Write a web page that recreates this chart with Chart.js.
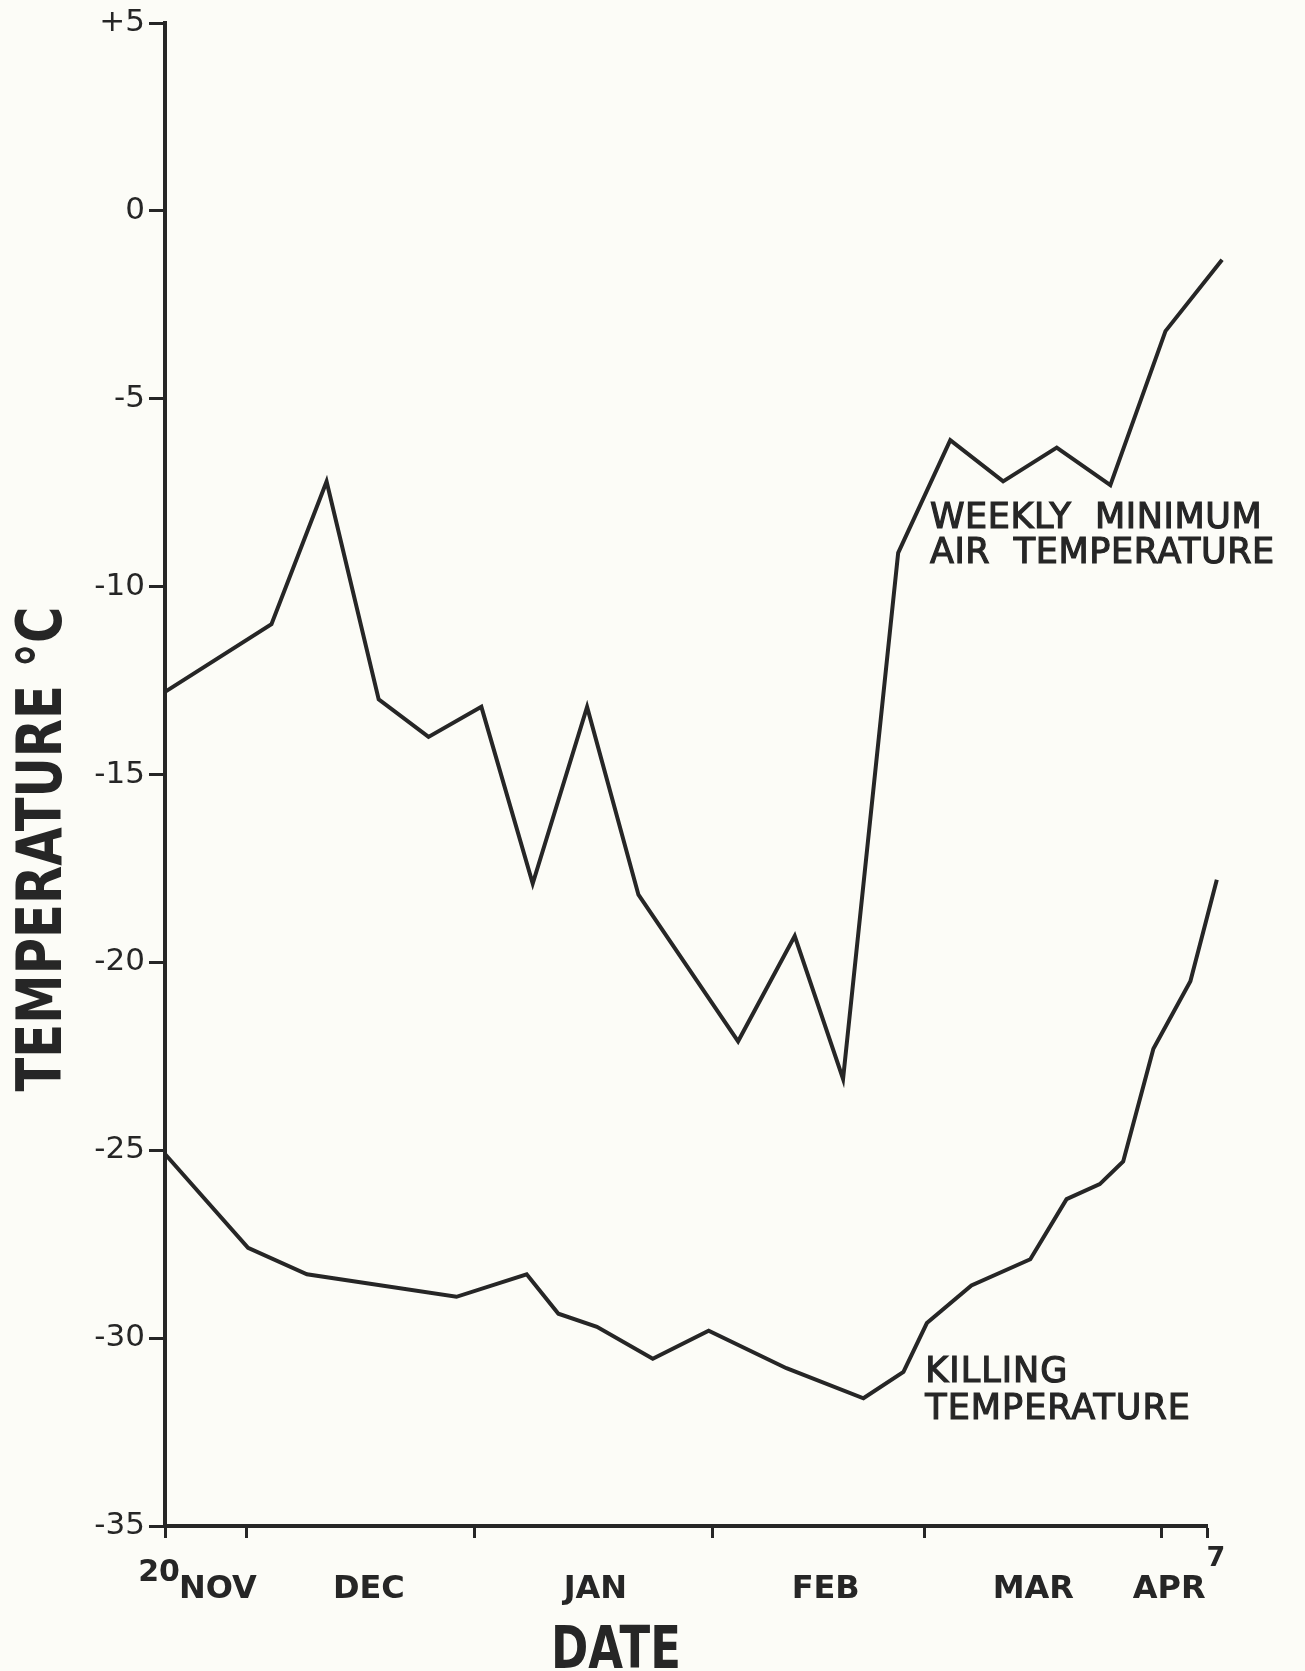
<!DOCTYPE html>
<html>
<head>
<meta charset="utf-8">
<title>Weekly minimum air temperature and killing temperature</title>
<script src="https://cdn.jsdelivr.net/npm/chart.js@4.4.1/dist/chart.umd.min.js"></script>
<style>
    html, body { margin: 0; padding: 0; background: #fcfcf7; }
    #wrap { position: relative; width: 1305px; height: 1671px; }
</style>
</head>
<body>
<div id="wrap"><canvas id="tempChart"></canvas></div>
<script>
// x values are days counted from 20 Nov
var weekDays = [0, 14.1, 21.4, 28.3, 34.9, 41.9, 48.7, 55.9, 62.7, 75.9, 83.4, 89.8, 97.1, 104.0, 111.0, 118.1, 125.2, 132.5, 140.0];
var weekMin = [-12.8, -11.0, -7.2, -13.0, -14.0, -13.2, -17.9, -13.2, -18.2, -22.1, -19.3, -23.1, -9.1, -6.1, -7.2, -6.3, -7.3, -3.2, -1.3];

var killDays = [0, 11.0, 18.8, 38.6, 47.9, 52.1, 57.2, 64.6, 72.0, 82.3, 92.5, 97.8, 100.9, 106.8, 114.6, 119.4, 123.8, 126.9, 130.9, 135.8, 139.3];
var killTemp = [-25.1, -27.6, -28.3, -28.9, -28.3, -29.35, -29.7, -30.55, -29.8, -30.8, -31.6, -30.9, -29.6, -28.6, -27.9, -26.3, -25.9, -25.3, -22.3, -20.5, -17.8];

// month boundaries get a tick, month names sit in the middle of the month
var monthTicks = [0, 10.8, 41, 72.5, 100.6, 132, 138];
var monthNames = ["NOV", "DEC", "JAN", "FEB", "MAR", "APR"];
var monthMid = [7, 27, 57, 87.5, 115, 133];
var yTicks = [5, 0, -5, -10, -15, -20, -25, -30, -35];

var ink = "#262626";

function toPoints(xs, ys) {
    var pts = [];
    for (var i = 0; i < xs.length; i++) {
        pts.push({ x: xs[i], y: ys[i] });
    }
    return pts;
}

// squeezed bold text for the axis titles (the original lettering is narrow)
function narrowText(ctx, text, cx, cy, width, size, rot) {
    ctx.save();
    ctx.font = "bold " + size + "px 'DejaVu Sans'";
    ctx.translate(cx, cy);
    ctx.rotate(rot);
    var w = ctx.measureText(text).width;
    ctx.scale(width / w, 1);
    ctx.textAlign = "center";
    ctx.textBaseline = "alphabetic";
    ctx.fillText(text, 0, size * 0.365);
    ctx.restore();
}

function labelText(ctx, lines, x, y, gap) {
    for (var i = 0; i < lines.length; i++) {
        ctx.strokeText(lines[i], x, y + i * gap);
        ctx.fillText(lines[i], x, y + i * gap);
    }
}

var textPlugin = {
    id: "chartText",
    afterDraw: function (chart) {
        var ctx = chart.ctx;
        var xs = chart.scales.x;
        var ys = chart.scales.y;
        var area = chart.chartArea;

        ctx.save();
        ctx.fillStyle = ink;
        ctx.strokeStyle = ink;

        // axis titles
        narrowText(ctx, "TEMPERATURE °C", 38, 849, 485, 62, -Math.PI / 2);
        narrowText(ctx, "DATE", 616, 1646, 130, 59, 0);

        // series labels
        ctx.font = "35px 'DejaVu Sans'";
        ctx.lineWidth = 1.2;
        ctx.letterSpacing = "0.6px";
        ctx.textAlign = "left";
        ctx.textBaseline = "middle";
        labelText(ctx, ["WEEKLY  MINIMUM", "AIR  TEMPERATURE"],
                xs.getPixelForValue(101.3), ys.getPixelForValue(-8.2), 35);
        ctx.letterSpacing = "1px";
        labelText(ctx, ["KILLING", "TEMPERATURE"],
                xs.getPixelForValue(100.7), ys.getPixelForValue(-30.92), 37);

        // start and end day of the date axis
        ctx.letterSpacing = "0px";
        ctx.textAlign = "center";
        ctx.font = "bold 30px 'DejaVu Sans'";
        ctx.fillText("20", xs.getPixelForValue(0) - 6, area.bottom + 47);
        ctx.font = "bold 27px 'DejaVu Sans'";
        ctx.fillText("7", xs.getPixelForValue(138) + 9, area.bottom + 33);
        ctx.restore();
    }
};

Chart.defaults.font.family = "'DejaVu Sans', sans-serif";
Chart.defaults.color = ink;

var ctx = document.getElementById("tempChart").getContext("2d");

new Chart(ctx, {
    type: "line",
    data: {
        datasets: [
            {
                label: "Weekly minimum air temperature",
                data: toPoints(weekDays, weekMin),
                borderColor: ink,
                borderWidth: 4,
                pointRadius: 0,
                tension: 0,
                clip: false,
            },
            {
                label: "Killing temperature",
                data: toPoints(killDays, killTemp),
                borderColor: ink,
                borderWidth: 4,
                pointRadius: 0,
                tension: 0,
                clip: false,
            },
        ],
    },
    options: {
        responsive: true,
        maintainAspectRatio: false,
        animation: false,
        layout: {
            padding: { top: 23, right: 98, left: 0, bottom: 0 },
        },
        plugins: {
            legend: { display: false },
            tooltip: { enabled: false },
        },
        scales: {
            x: {
                type: "linear",
                min: 0,
                max: 138,
                afterBuildTicks: function (scale) {
                    var t = monthTicks.concat(monthMid).sort(function (a, b) {
                        return a - b;
                    });
                    scale.ticks = t.map(function (v) {
                        return { value: v };
                    });
                },
                afterFit: function (scale) {
                    scale.height = 145;
                },
                ticks: {
                    autoSkip: false,
                    maxRotation: 0,
                    padding: 32,
                    font: { size: 32, weight: "bold" },
                    callback: function (value) {
                        var i = monthMid.indexOf(value);
                        return i >= 0 ? monthNames[i] : "";
                    },
                },
                grid: {
                    drawOnChartArea: false,
                    tickLength: 12,
                    tickWidth: 3,
                    tickColor: function (c) {
                        if (c.tick && monthMid.indexOf(c.tick.value) >= 0) {
                            return "rgba(0,0,0,0)";
                        }
                        return ink;
                    },
                },
                border: { display: true, color: ink, width: 4 },
            },
            y: {
                min: -35,
                max: 5,
                afterBuildTicks: function (scale) {
                    scale.ticks = yTicks.map(function (v) {
                        return { value: v };
                    });
                },
                afterFit: function (scale) {
                    scale.width = 165;
                },
                ticks: {
                    padding: 4,
                    font: { size: 31 },
                    callback: function (value) {
                        return value > 0 ? "+" + value : String(value);
                    },
                },
                grid: {
                    drawOnChartArea: false,
                    tickLength: 16,
                    tickWidth: 3,
                    tickColor: ink,
                },
                border: { display: true, color: ink, width: 4 },
            },
        },
    },
    plugins: [textPlugin],
});
</script>
</body>
</html>
